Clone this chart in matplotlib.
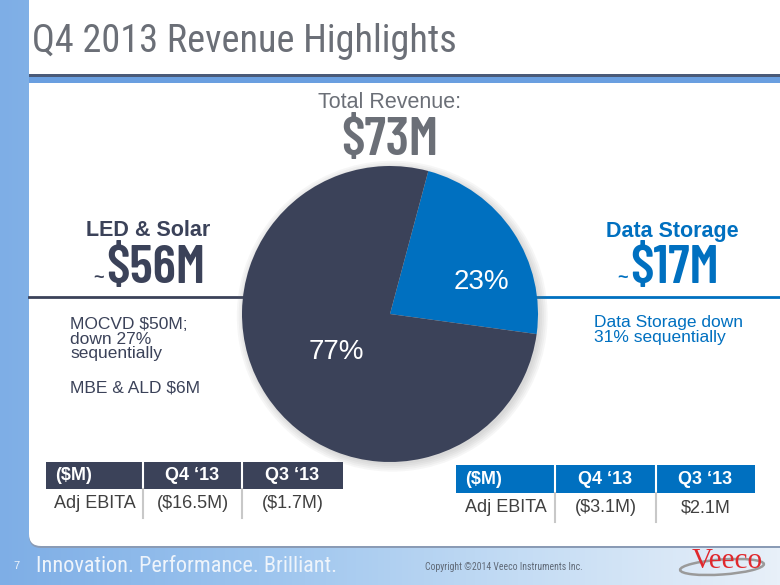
import numpy as np
import matplotlib
matplotlib.use("Agg")
import matplotlib.pyplot as plt
from matplotlib.patches import FancyBboxPatch, Rectangle, Ellipse, Circle
from matplotlib.colors import LinearSegmentedColormap

# --- data ---
segments = ["Data Storage", "LED & Solar"]
shares = [23, 77]
seg_colors = ["#0070c0", "#3b4259"]
total_revenue = "$73M"
led_revenue = "$56M"
ds_revenue = "$17M"
led_notes = ["MOCVD $50M;\ndown 27%\nsequentially", "MBE & ALD $6M"]
ds_notes = ["Data Storage down\n31% sequentially"]
table_cols = ["($M)", "Q4 \u201813", "Q3 \u201813"]
led_ebita = ["Adj EBITA", "($16.5M)", "($1.7M)"]
ds_ebita = ["Adj EBITA", "($3.1M)", "$2.1M"]

W, H = 780, 585
NARROW = ["Roboto Condensed", "Liberation Sans"]
BIGNUM = ["Barlow Condensed", "Roboto Condensed", "Liberation Sans"]
SANS = ["Liberation Sans", "DejaVu Sans"]
NAVY = "#3b4259"
BLUE = "#0070c0"
GRAY = "#6b6f77"

fig = plt.figure(figsize=(W / 100, H / 100), dpi=100)
ax = fig.add_axes([0, 0, 1, 1])
ax.set_xlim(0, W)
ax.set_ylim(H, 0)
ax.axis("off")

# background gradient (slide frame)
bg = LinearSegmentedColormap.from_list("bg", ["#7eaee6", "#9cc4ee", "#c4dcf4", "#e8f0f9"])
grad = np.linspace(0, 1, 256).reshape(1, -1)
ax.imshow(grad, cmap=bg, extent=[0, W, H, 0], aspect="auto", zorder=0)

# white content panel (with a thin shadow at the bottom)
ax.add_patch(FancyBboxPatch((29, -30), 800, 578, boxstyle="round,pad=0,rounding_size=12",
                            fc="#8a9bb5", ec="none", zorder=1))
ax.add_patch(FancyBboxPatch((29, -30), 800, 576, boxstyle="round,pad=0,rounding_size=12",
                            fc="white", ec="none", zorder=1.1))

# header separator
ax.add_patch(Rectangle((29, 74), W, 3, fc="#4a5a78", ec="none", zorder=2))
ax.add_patch(Rectangle((29, 77), W, 6, fc="#6a9fe0", ec="none", zorder=2))

ax.text(32, 52, "Q4 2013 Revenue Highlights", fontsize=27.5, color=GRAY, family=NARROW,
        va="baseline", ha="left", zorder=3)

# section dividers
ax.plot([29, 245], [297, 297], color=NAVY, lw=2, zorder=2)
ax.plot([535, W], [297, 297], color=BLUE, lw=2, zorder=2)

# total revenue
ax.text(390, 102, "Total Revenue:", fontsize=15.5, color=GRAY, family=SANS, ha="center", va="center", zorder=3)
ax.text(390, 141, total_revenue, fontsize=39, color=GRAY, family=BIGNUM, weight="semibold",
        ha="center", va="center", zorder=3)

# LED & Solar block
ax.text(148, 231, "LED & Solar", fontsize=15.5, color=NAVY, family=SANS, weight="bold",
        ha="center", va="center", zorder=3)
ax.text(106, 269, led_revenue, fontsize=39, color=NAVY, family=BIGNUM, weight="semibold",
        ha="left", va="center", zorder=3)
ax.text(104, 278, "~", fontsize=13, color=NAVY, family=SANS, weight="bold",
        ha="right", va="center", zorder=3)
ax.text(70, 339, led_notes[0], fontsize=12.5, color=NAVY, family=SANS, ha="left", va="center",
        linespacing=0.98, zorder=3)
ax.text(70, 388, led_notes[1], fontsize=12.5, color=NAVY, family=SANS, ha="left", va="center", zorder=3)

# Data Storage block
ax.text(672, 231, "Data Storage", fontsize=15.5, color=BLUE, family=SANS, weight="bold",
        ha="center", va="center", zorder=3)
ax.text(630, 269, ds_revenue, fontsize=39, color=BLUE, family=BIGNUM, weight="semibold",
        ha="left", va="center", zorder=3)
ax.text(628, 278, "~", fontsize=13, color=BLUE, family=SANS, weight="bold",
        ha="right", va="center", zorder=3)
ax.text(594, 330, ds_notes[0], fontsize=12.5, color=BLUE, family=SANS, ha="left", va="center",
        linespacing=0.98, zorder=3)


def draw_table(x0, x1, x2, x3, y0, y1, y2, head_color, row):
    ax.add_patch(Rectangle((x0, y0), x3 - x0, y1 - y0, fc=head_color, ec="none", zorder=2))
    for xx in (x1, x2):
        ax.plot([xx, xx], [y0, y1], color="white", lw=1.5, zorder=2.5)
        ax.plot([xx, xx], [y1, y2], color="#c8c8c8", lw=1.5, zorder=2.5)
    yc = (y0 + y1) / 2
    ax.text(x0 + 9, yc, table_cols[0], fontsize=13, color="white", weight="bold", family=SANS,
            ha="left", va="center", zorder=3)
    ax.text((x1 + x2) / 2, yc, table_cols[1], fontsize=13, color="white", weight="bold", family=SANS,
            ha="center", va="center", zorder=3)
    ax.text((x2 + x3) / 2, yc, table_cols[2], fontsize=13, color="white", weight="bold", family=SANS,
            ha="center", va="center", zorder=3)
    yr = (y1 + y2) / 2
    for (a, b), val in zip([(x0, x1), (x1, x2), (x2, x3)], row):
        ax.text((a + b) / 2, yr, val, fontsize=13, color="#404040", family=SANS,
                ha="center", va="center", zorder=3)


draw_table(46, 143, 242, 343, 462, 489, 518, NAVY, led_ebita)
draw_table(456, 555, 656, 755, 465, 493, 522, BLUE, ds_ebita)

# footer
ax.text(16, 566, "7", fontsize=8, color="#eef4fb", family=SANS, ha="center", va="center", zorder=3)
ax.text(36, 567, "Innovation. Performance. Brilliant.", fontsize=16, color="#eef4fb", family=NARROW,
        ha="left", va="center", zorder=3)
ax.text(425, 567, "Copyright \u00a92014 Veeco Instruments Inc.", fontsize=7, color="#606a78", family=NARROW,
        ha="left", va="center", zorder=3)
ax.add_patch(Ellipse((722, 567), 84, 15, angle=-4, fc="none", ec="#9a9a9a", lw=1.8, zorder=3))
ax.text(727, 561, "Veeco", fontsize=21, color="#e0282d", family=["Liberation Serif", "DejaVu Serif"],
        ha="center", va="center", zorder=4)

# pie chart
cx, cy, r = 390, 314, 148
pax = fig.add_axes([(cx - r) / W, (H - cy - r) / H, 2 * r / W, 2 * r / H])
pax.axis("off")
for a in np.linspace(0.05, 0.0, 5):
    pax.add_patch(Circle((0.015, -0.015), 1 + a, fc="#707070", ec="none", alpha=0.06,
                         zorder=0, clip_on=False))
pax.pie(shares, colors=seg_colors, startangle=75, counterclock=False, radius=1,
        wedgeprops=dict(linewidth=0))
pax.set_aspect("equal")
pax.set_xlim(-1.0, 1.0)
pax.set_ylim(-1.0, 1.0)
pax.text(0.62, 0.215, f"{shares[0]}%", fontsize=20, color="white", family=SANS, ha="center", va="center")
pax.text(-0.36, -0.26, f"{shares[1]}%", fontsize=20, color="white", family=SANS, ha="center", va="center")

fig.savefig("out.png", dpi=100)
